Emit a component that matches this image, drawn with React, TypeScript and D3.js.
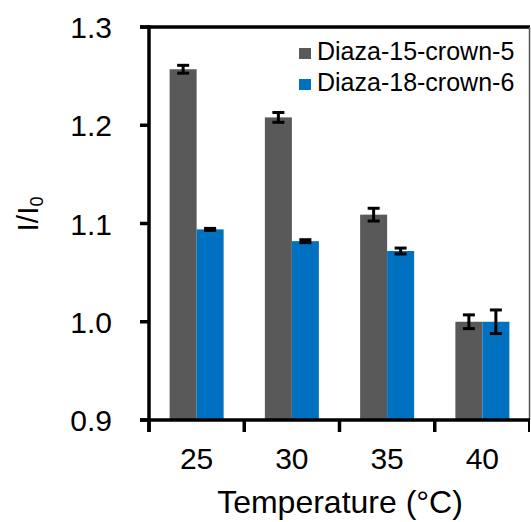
import React from "react";
import * as d3 from "d3";

// data
const temps = ["25", "30", "35", "40"];
const seriesNames = ["Diaza-15-crown-5", "Diaza-18-crown-6"];
const d15 = [1.257, 1.208, 1.109, 1.0];
const d15Err = [0.004, 0.005, 0.0065, 0.007];
const d18 = [1.094, 1.082, 1.072, 1.0];
const d18Err = [0.001, 0.0015, 0.003, 0.012];
const yTicks = [0.9, 1.0, 1.1, 1.2, 1.3];
const colors = ["#595959", "#0070C0"];

const W = 531;
const H = 522;
const margin = { top: 27, right: 1, bottom: 102, left: 149 };
const font = "'Liberation Sans', Arial, sans-serif";

export default function App() {
  const innerW = W - margin.left - margin.right;
  const x0 = margin.left;
  const x1 = W - margin.right;

  const pad = 1 - 54 / (innerW / temps.length);
  const x = d3
    .scaleBand<string>()
    .domain(temps)
    .range([x0, x1])
    .paddingInner(pad)
    .paddingOuter(pad / 2);

  const xs = d3
    .scaleBand<number>()
    .domain([0, 1])
    .range([0, x.bandwidth()]);

  const y = d3
    .scaleLinear()
    .domain([0.9, 1.3])
    .range([H - margin.bottom, margin.top]);

  const series = [
    { name: seriesNames[0], values: d15, errs: d15Err },
    { name: seriesNames[1], values: d18, errs: d18Err },
  ];

  const step = x.step();
  const boundaries = d3.range(temps.length + 1).map((i) => x0 + i * step);
  const baseY = y(0.9);
  const axisW = 3.5;

  return (
    <svg
      width={W}
      height={H}
      style={{ position: "absolute", left: 0, top: 0, background: "#fff" }}
      fontFamily={font}
    >
      {/* bars */}
      {series.map((s, si) =>
        s.values.map((v, i) => (
          <rect
            key={`b${si}-${i}`}
            x={(x(temps[i]) ?? 0) + (xs(si) ?? 0)}
            y={y(v)}
            width={xs.bandwidth()}
            height={baseY - y(v)}
            fill={colors[si]}
          />
        ))
      )}

      {/* error bars */}
      {series.map((s, si) =>
        s.values.map((v, i) => {
          const cx = (x(temps[i]) ?? 0) + (xs(si) ?? 0) + xs.bandwidth() / 2;
          const top = y(v + s.errs[i]);
          const bot = y(v - s.errs[i]);
          return (
            <g key={`e${si}-${i}`} stroke="#000" strokeWidth={3}>
              <line x1={cx} x2={cx} y1={top} y2={bot} />
              <line x1={cx - 6} x2={cx + 6} y1={top} y2={top} />
              <line x1={cx - 6} x2={cx + 6} y1={bot} y2={bot} />
            </g>
          );
        })
      )}

      {/* frame: top and right */}
      <line x1={140} x2={x1} y1={y(1.3)} y2={y(1.3)} stroke="#000" strokeWidth={axisW} />
      <line x1={x1 - 0.5} x2={x1 - 0.5} y1={y(1.3)} y2={baseY} stroke="#555" strokeWidth={1.5} />

      {/* y axis */}
      <line x1={x0} x2={x0} y1={y(1.3) - 1.5} y2={baseY + 12} stroke="#000" strokeWidth={axisW} />
      {yTicks.map((t) => (
        <g key={`yt${t}`}>
          <line x1={140} x2={x0} y1={y(t)} y2={y(t)} stroke="#000" strokeWidth={axisW} />
          <text x={112} y={y(t) + 11} textAnchor="end" fontSize={30} fill="#000">
            {t.toFixed(1)}
          </text>
        </g>
      ))}

      {/* x axis */}
      <line x1={x0 - 9} x2={x1} y1={baseY} y2={baseY} stroke="#000" strokeWidth={axisW} />
      {boundaries.map((bx, i) => (
        <line
          key={`xt${i}`}
          x1={i === temps.length ? bx - 1 : bx}
          x2={i === temps.length ? bx - 1 : bx}
          y1={baseY}
          y2={baseY + 12}
          stroke="#000"
          strokeWidth={i === temps.length ? 2 : axisW}
        />
      ))}
      {temps.map((t) => (
        <text
          key={`xl${t}`}
          x={(x(t) ?? 0) + x.bandwidth() / 2}
          y={469}
          textAnchor="middle"
          fontSize={30}
          fill="#000"
        >
          {t}
        </text>
      ))}

      {/* axis titles */}
      <text x={340} y={513} textAnchor="middle" fontSize={32} fill="#000">
        Temperature (°C)
      </text>
      <text transform="translate(38,214) rotate(-90)" textAnchor="middle" fontSize={30} fill="#000">
        <tspan>I/I</tspan>
        <tspan fontSize={18} dy={5}>0</tspan>
      </text>

      {/* legend */}
      {series.map((s, si) => (
        <g key={`lg${si}`} transform={`translate(299,${48 + si * 31})`}>
          <rect x={0} y={0} width={12} height={11} fill={colors[si]} />
          <text x={18} y={12} fontSize={25} fill="#000">
            {s.name}
          </text>
        </g>
      ))}
    </svg>
  );
}
